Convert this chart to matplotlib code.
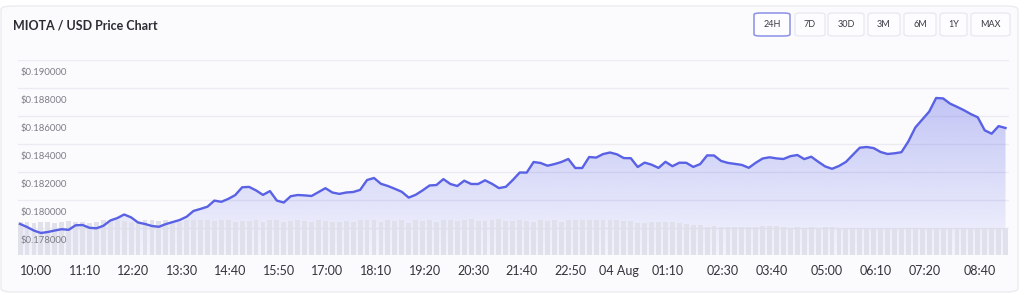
import numpy as np
import pandas as pd
import matplotlib
matplotlib.use("Agg")
import matplotlib.pyplot as plt
import matplotlib.dates as mdates
from matplotlib.colors import to_rgb
from matplotlib.patches import FancyBboxPatch, Polygon
from matplotlib.transforms import offset_copy, blended_transform_factory

plt.rcParams["font.family"] = ["Lato", "DejaVu Sans"]

# --- data (10 min steps) ---
start_time = "2024-08-03 09:37"
step = "10min"

prices = [
    0.178286, 0.178071, 0.177814, 0.177643, 0.177714, 0.177821, 0.177914, 0.177871, 0.178193, 0.178214,
    0.178014, 0.177979, 0.178157, 0.178536, 0.178707, 0.178964, 0.178757, 0.178393, 0.178286, 0.178143,
    0.178086, 0.178279, 0.178429, 0.178571, 0.178807, 0.179221, 0.179364, 0.179521, 0.179957, 0.179871,
    0.180079, 0.180350, 0.180907, 0.180936, 0.180686, 0.180364, 0.180636, 0.179957, 0.179821, 0.180271,
    0.180357, 0.180329, 0.180286, 0.180564, 0.180843, 0.180536, 0.180436, 0.180536, 0.180571, 0.180721,
    0.181429, 0.181571, 0.181157, 0.181000, 0.180800, 0.180586, 0.180171, 0.180371, 0.180686, 0.181036,
    0.181071, 0.181493, 0.181143, 0.181000, 0.181379, 0.181143, 0.181143, 0.181407, 0.181157, 0.180850,
    0.180943, 0.181429, 0.181964, 0.181957, 0.182714, 0.182643, 0.182450, 0.182564, 0.182714, 0.182929,
    0.182286, 0.182286, 0.183071, 0.183029, 0.183279, 0.183393, 0.183264, 0.182993, 0.182986, 0.182357,
    0.182671, 0.182521, 0.182293, 0.182729, 0.182414, 0.182664, 0.182657, 0.182364, 0.182564, 0.183186,
    0.183179, 0.182793, 0.182650, 0.182579, 0.182507, 0.182300, 0.182657, 0.182964, 0.183050, 0.182971,
    0.182929, 0.183129, 0.183214, 0.182921, 0.183093, 0.182736, 0.182400, 0.182229, 0.182429, 0.182721,
    0.183229, 0.183736, 0.183786, 0.183707, 0.183429, 0.183286, 0.183336, 0.183414, 0.184186, 0.185179,
    0.185750, 0.186314, 0.187286, 0.187257, 0.186886, 0.186657, 0.186414, 0.186136, 0.185907, 0.184979,
    0.184736, 0.185279, 0.185143,
]

volumes = [
    3.3, 3.3, 3.2, 3.3, 3.3, 3.2, 3.3, 3.4, 3.3, 3.3, 3.2, 3.3, 3.5, 3.4, 3.5, 3.4, 3.3, 3.4, 3.5, 3.5,
    3.4, 3.5, 3.4, 3.3, 3.5, 3.5, 3.5, 3.5, 3.4, 3.5, 3.5, 3.3, 3.4, 3.4, 3.5, 3.3, 3.5, 3.5, 3.3, 3.4,
    3.5, 3.4, 3.3, 3.5, 3.4, 3.3, 3.3, 3.4, 3.3, 3.5, 3.5, 3.5, 3.3, 3.5, 3.4, 3.5, 3.2, 3.5, 3.4, 3.5,
    3.3, 3.5, 3.5, 3.4, 3.5, 3.6, 3.4, 3.4, 3.5, 3.6, 3.4, 3.4, 3.5, 3.4, 3.3, 3.5, 3.4, 3.5, 3.3, 3.5,
    3.5, 3.5, 3.5, 3.5, 3.5, 3.5, 3.5, 3.4, 3.4, 3.2, 3.2, 3.3, 3.3, 3.3, 3.3, 3.2, 3.1, 3.0, 3.0, 2.8,
    2.9, 2.8, 2.8, 2.8, 2.8, 2.8, 2.8, 2.9, 2.9, 2.9, 2.8, 2.7, 2.8, 2.7, 2.8, 2.7, 2.8, 2.8, 2.6, 2.6,
    2.6, 2.6, 2.6, 2.6, 2.6, 2.6, 2.6, 2.6, 2.7, 2.6, 2.7, 2.6, 2.6, 2.7, 2.6, 2.6, 2.6, 2.6, 2.7, 2.6,
    2.7, 2.7, 2.7,
]

tick_times = [
    "2024-08-03 10:00", "2024-08-03 11:10", "2024-08-03 12:20", "2024-08-03 13:30", "2024-08-03 14:40",
    "2024-08-03 15:50", "2024-08-03 17:00", "2024-08-03 18:10", "2024-08-03 19:20", "2024-08-03 20:30",
    "2024-08-03 21:40", "2024-08-03 22:50", "2024-08-04 00:00", "2024-08-04 01:10", "2024-08-04 02:30",
    "2024-08-04 03:40", "2024-08-04 05:00", "2024-08-04 06:10", "2024-08-04 07:20", "2024-08-04 08:40",
]
tick_labels = [
    "10:00", "11:10", "12:20", "13:30", "14:40", "15:50", "17:00", "18:10", "19:20", "20:30",
    "21:40", "22:50", "04 Aug", "01:10", "02:30", "03:40", "05:00", "06:10", "07:20", "08:40",
]
price_levels = [0.178, 0.180, 0.182, 0.184, 0.186, 0.188, 0.190]
ranges = ["24H", "7D", "30D", "3M", "6M", "1Y", "MAX"]

line_color = "#5961e5"
W, H = 1024, 295

fig = plt.figure(figsize=(W / 100, H / 100), dpi=100, facecolor="white")

# card background
card = FancyBboxPatch((1 / W, 3 / H), 1017 / W, 286 / H,
                      boxstyle="round,pad=0,rounding_size=0.012",
                      transform=fig.transFigure, facecolor="#fbfbfe",
                      edgecolor="#ebebf0", linewidth=1.0, zorder=-5)
fig.patches.append(card)

fig.text(13 / W, 1 - 25 / H, "MIOTA / USD Price Chart", fontsize=9,
         fontweight="bold", color="#2b2b33", va="center", ha="left")

# range buttons
btn_x = [754, 795, 828, 868, 904, 940, 971]
btn_w = [36, 30, 36, 32, 32, 27, 39]
for i, name in enumerate(ranges):
    sel = name == "24H"
    b = FancyBboxPatch((btn_x[i] / W, 1 - 36 / H), btn_w[i] / W, 23 / H,
                       boxstyle="round,pad=0,rounding_size=0.006",
                       transform=fig.transFigure, facecolor="#fdfdff",
                       edgecolor="#8a90e6" if sel else "#e8e8ee",
                       linewidth=1.1 if sel else 0.9)
    fig.patches.append(b)
    fig.text((btn_x[i] + btn_w[i] / 2) / W, 1 - 24.5 / H, name, fontsize=6.5,
             color="#3a3a44", ha="center", va="center")

times = pd.date_range(start_time, periods=len(prices), freq=step)
xn = mdates.date2num(times)

ax = fig.add_axes([18 / W, 40 / H, 991 / W, 195 / H])
ax.set_facecolor("none")
y_top = 0.190
y_bot = 0.190 - 195 / 28 * 0.002
x_left = mdates.date2num(pd.Timestamp("2024-08-03 09:34"))
x_right = mdates.date2num(pd.Timestamp("2024-08-04 09:22"))

# gradient area under the line
verts = [(xn[0], y_bot)] + list(zip(xn, prices)) + [(xn[-1], y_bot)]
clip = Polygon(verts, closed=True, facecolor="none", edgecolor="none")
ax.add_patch(clip)
rgba = np.zeros((256, 1, 4))
rgba[..., :3] = to_rgb(line_color)
rgba[..., 3] = np.linspace(0.42, 0.05, 256)[:, None]
im = ax.imshow(rgba, extent=[xn[0], xn[-1], y_bot, y_top], origin="upper",
               aspect="auto", zorder=1, interpolation="bilinear")
im.set_clip_path(clip)

ax.set_xlim(x_left, x_right)
ax.set_ylim(y_bot, y_top)
ax.set_yticks(price_levels)
ax.yaxis.grid(True, color="#ebebf1", linewidth=0.9)
ax.set_axisbelow(True)
ax.tick_params(axis="y", length=0, labelleft=False)
ax.set_xticks(mdates.date2num(pd.to_datetime(tick_times)))
ax.set_xticklabels(tick_labels)
ax.tick_params(axis="x", length=0, pad=7, labelsize=9, labelcolor="#33333b")
for s in ax.spines.values():
    s.set_visible(False)

# volume bars on a twin axis, price line drawn over them
ax2 = ax.twinx()
ax2.bar(xn, volumes, width=0.7 / 144, color="#dedfe9", alpha=0.9, zorder=1)
ax2.plot(xn, prices, color=line_color, linewidth=1.7, transform=ax.transData,
         zorder=3, solid_joinstyle="round")
ax2.set_ylim(0, 19.5)
ax2.set_xlim(x_left, x_right)
ax2.set_yticks([])
for s in ax2.spines.values():
    s.set_visible(False)

# y labels sit just under their grid lines
trans = offset_copy(blended_transform_factory(ax2.transAxes, ax.transData),
                    fig=fig, x=3, y=-12, units="dots")
for v in price_levels:
    ax2.text(0, v, "\\$%.6f" % v, transform=trans, fontsize=6.8,
             color="#7d7d86", ha="left", va="center", zorder=4)

fig.savefig("out.png", dpi=100, facecolor=fig.get_facecolor())
